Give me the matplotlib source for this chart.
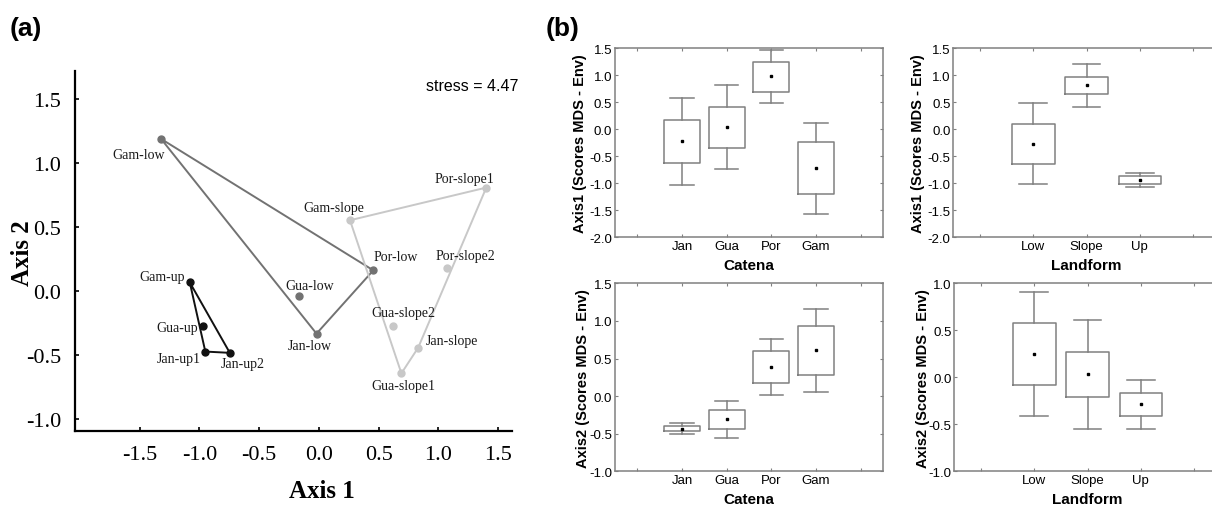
import numpy as np
import matplotlib
matplotlib.use("Agg")
import matplotlib.pyplot as plt

# ---- panel (a): NMDS ordination ----
sites = ["Gam-low", "Gua-low", "Jan-low", "Por-low",
         "Gam-slope", "Gua-slope1", "Gua-slope2", "Jan-slope", "Por-slope1", "Por-slope2",
         "Gam-up", "Gua-up", "Jan-up1", "Jan-up2"]
axis1 = [-1.32, -0.17, -0.02, 0.455,
         0.26, 0.69, 0.62, 0.83, 1.40, 1.07,
         -1.08, -0.97, -0.95, -0.745]
axis2 = [1.19, -0.04, -0.33, 0.164,
         0.555, -0.64, -0.27, -0.44, 0.81, 0.18,
         0.07, -0.27, -0.47, -0.48]
landform = ["low"] * 4 + ["slope"] * 6 + ["up"] * 4
stress = 4.47

# ---- panel (b): box plots (mean, box, whiskers) ----
catena = ["Jan", "Gua", "Por", "Gam"]
landforms = ["Low", "Slope", "Up"]

ax1_cat_mean = [-0.22, 0.04, 0.98, -0.72]
ax1_cat_q1 = [-0.63, -0.35, 0.70, -1.20]
ax1_cat_q3 = [0.18, 0.41, 1.25, -0.23]
ax1_cat_lo = [-1.03, -0.74, 0.49, -1.57]
ax1_cat_hi = [0.58, 0.82, 1.46, 0.12]

ax1_land_mean = [-0.27, 0.82, -0.93]
ax1_land_q1 = [-0.65, 0.65, -1.02]
ax1_land_q3 = [0.10, 0.975, -0.87]
ax1_land_lo = [-1.02, 0.41, -1.07]
ax1_land_hi = [0.49, 1.21, -0.80]

ax2_cat_mean = [-0.44, -0.30, 0.39, 0.61]
ax2_cat_q1 = [-0.47, -0.44, 0.17, 0.28]
ax2_cat_q3 = [-0.40, -0.18, 0.605, 0.93]
ax2_cat_lo = [-0.51, -0.56, 0.015, 0.05]
ax2_cat_hi = [-0.36, -0.06, 0.755, 1.16]

ax2_land_mean = [0.245, 0.03, -0.287]
ax2_land_q1 = [-0.085, -0.206, -0.41]
ax2_land_q3 = [0.58, 0.266, -0.163]
ax2_land_lo = [-0.41, -0.55, -0.55]
ax2_land_hi = [0.91, 0.61, -0.03]


def hull(pts):
    pts = sorted(pts)
    def cross(o, a, b):
        return (a[0]-o[0])*(b[1]-o[1]) - (a[1]-o[1])*(b[0]-o[0])
    lower, upper = [], []
    for p in pts:
        while len(lower) >= 2 and cross(lower[-2], lower[-1], p) <= 0:
            lower.pop()
        lower.append(p)
    for p in reversed(pts):
        while len(upper) >= 2 and cross(upper[-2], upper[-1], p) <= 0:
            upper.pop()
        upper.append(p)
    return lower[:-1] + upper[:-1]


fig = plt.figure(figsize=(12.12, 5.06), dpi=100)
W, H = 1212.0, 506.0

def px_axes(l, t, r, b):
    return fig.add_axes([l / W, 1 - b / H, (r - l) / W, (b - t) / H])

# ---------------- panel (a) ----------------
ax = px_axes(75, 72, 512, 432)
ax.set_xlim(-2.04, 1.615)
ax.set_ylim(-1.09, 1.72)
for s in ["top", "right"]:
    ax.spines[s].set_visible(False)
for s in ["left", "bottom"]:
    ax.spines[s].set_linewidth(1.6)
    ax.spines[s].set_color("black")

colors = {"low": "#727272", "slope": "#c8c8c8", "up": "#111111"}
x = np.array(axis1)
y = np.array(axis2)
lf = np.array(landform)
for g in ["low", "slope", "up"]:
    m = lf == g
    h = hull(list(zip(x[m], y[m])))
    h = h + [h[0]]
    ax.plot([p[0] for p in h], [p[1] for p in h], color=colors[g], lw=1.4, zorder=2)
    ax.plot(x[m], y[m], "o", color=colors[g], ms=5, zorder=3)

offsets = {"Gam-low": (-22.7, -15.3), "Por-low": (22.7, 14), "Jan-low": (-6.7, -12.3),
           "Gua-low": (11, 11), "Gam-slope": (-16, 13), "Por-slope1": (-21.7, 9),
           "Por-slope2": (19, 12.3), "Gua-slope2": (10, 13), "Jan-slope": (34, 7.7),
           "Gua-slope1": (2.3, -11.7), "Gam-up": (-27.7, 6), "Gua-up": (-26, -1.7),
           "Jan-up1": (-26.7, -6.7), "Jan-up2": (12.7, -11)}
for name, xi, yi in zip(sites, axis1, axis2):
    dx, dy = offsets[name]
    ax.annotate(name, (xi, yi), xytext=(dx * 0.72, dy * 0.72), textcoords="offset points",
                ha="center", va="center", fontsize=10, family="Liberation Serif",
                color="#1a1a1a")

ax.set_xticks([-1.5, -1.0, -0.5, 0.0, 0.5, 1.0, 1.5])
ax.set_xticklabels([f"{v:.1f}" for v in [-1.5, -1.0, -0.5, 0.0, 0.5, 1.0, 1.5]])
ax.set_yticks([-1.0, -0.5, 0.0, 0.5, 1.0, 1.5])
ax.set_yticklabels([f"{v:.1f}" for v in [-1.0, -0.5, 0.0, 0.5, 1.0, 1.5]])
ax.tick_params(direction="in", length=3, width=1.2, labelsize=16, pad=10)
for t in ax.get_xticklabels() + ax.get_yticklabels():
    t.set_family("Liberation Serif")
ax.text(1.285, 1.61, f"stress = {stress}", ha="center", va="center",
        fontsize=11.5, family="Liberation Sans")

fig.text(321.7 / W, 1 - 491.7 / H, "Axis 1", ha="center", va="center",
         fontsize=18, fontweight="bold", family="Liberation Serif")
fig.text(22.7 / W, 1 - 253.3 / H, "Axis 2", ha="center", va="center", rotation=90,
         fontsize=18, fontweight="bold", family="Liberation Serif")
fig.text(10 / W, 1 - 29 / H, "(a)", ha="left", va="center",
         fontsize=19, fontweight="bold", family="Liberation Sans")
fig.text(546 / W, 1 - 29 / H, "(b)", ha="left", va="center",
         fontsize=19, fontweight="bold", family="Liberation Sans")

# ---------------- panel (b) ----------------
gray = "#808080"

def box_panel(rect, cats, mean, q1, q3, lo, hi, ylim, yticks, ylabel, xlabel, xmax, ylab_x):
    bx = px_axes(*rect)
    n = len(cats)
    stats = []
    for i in range(n):
        stats.append({"med": mean[i], "mean": mean[i], "q1": q1[i], "q3": q3[i],
                      "whislo": lo[i], "whishi": hi[i], "fliers": []})
    lp = dict(color=gray, linewidth=1.1)
    bx.bxp(stats, positions=range(1, n + 1), widths=0.8, capwidths=0.52,
           showmeans=True, showfliers=False,
           boxprops=lp, whiskerprops=lp, capprops=lp,
           medianprops=dict(visible=False),
           meanprops=dict(marker="s", markerfacecolor="black", markeredgecolor="black",
                          markersize=1.7))
    bx.set_xlim(-0.5, xmax)
    bx.set_ylim(*ylim)
    bx.set_xticks(range(0, n + 2))
    bx.set_xticklabels([""] + cats + [""])
    bx.set_yticks(yticks)
    bx.set_yticklabels([f"{v:.1f}" for v in yticks])
    bx.tick_params(direction="in", length=2.5, width=0.8, color=gray, labelsize=9.5,
                   top=True, right=True, pad=2)
    for s in bx.spines.values():
        s.set_color(gray)
        s.set_linewidth(1.1)
    for t in bx.get_xticklabels() + bx.get_yticklabels():
        t.set_family("Liberation Sans")
    bx.set_ylabel(ylabel, fontsize=10.5, fontweight="bold", family="Liberation Sans")
    bx.set_xlabel(xlabel, fontsize=11, fontweight="bold", family="Liberation Sans")
    bx.yaxis.set_label_coords(ylab_x, 0.5)
    bx.xaxis.set_label_coords(0.5, -0.11)
    return bx

box_panel((615, 49.3, 883, 238.3), catena, ax1_cat_mean, ax1_cat_q1, ax1_cat_q3,
          ax1_cat_lo, ax1_cat_hi, (-2.0, 1.5), np.arange(-2.0, 1.51, 0.5),
          "Axis1 (Scores MDS - Env)", "Catena", 5.5, -0.105)
box_panel((953.3, 49.3, 1219.8, 238.3), landforms, ax1_land_mean, ax1_land_q1, ax1_land_q3,
          ax1_land_lo, ax1_land_hi, (-2.0, 1.5), np.arange(-2.0, 1.51, 0.5),
          "Axis1 (Scores MDS - Env)", "Landform", 4.5, -0.108)
box_panel((615, 284.3, 883, 472.3), catena, ax2_cat_mean, ax2_cat_q1, ax2_cat_q3,
          ax2_cat_lo, ax2_cat_hi, (-1.0, 1.5), np.arange(-1.0, 1.51, 0.5),
          "Axis2 (Scores MDS - Env)", "Catena", 5.5, -0.095)
box_panel((954.3, 284.3, 1220.8, 472.3), landforms, ax2_land_mean, ax2_land_q1, ax2_land_q3,
          ax2_land_lo, ax2_land_hi, (-1.0, 1.0), np.arange(-1.0, 1.01, 0.5),
          "Axis2 (Scores MDS - Env)", "Landform", 4.5, -0.093)

fig.savefig("out.png", dpi=100)
